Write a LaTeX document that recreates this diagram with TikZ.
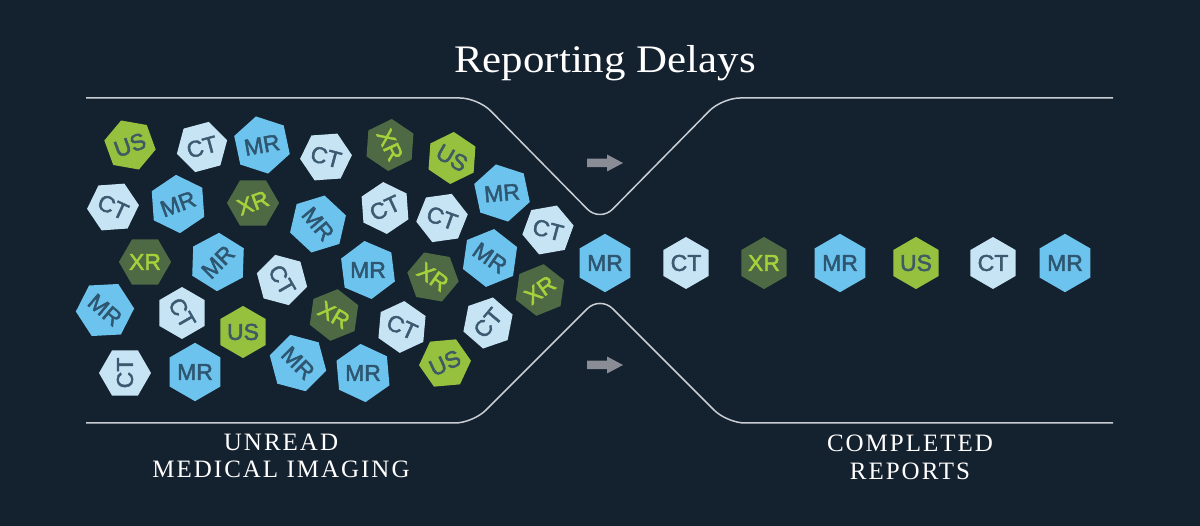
\documentclass[tikz,border=0pt]{standalone}
\usepackage{fontspec}
\usetikzlibrary{shapes.geometric}
\newfontfamily\hexfont{Liberation Sans}[FakeBold=2]
\newfontfamily\serifttl{Liberation Serif}
\newfontfamily\seriflab{Liberation Serif}[LetterSpace=8]
\definecolor{bg}{HTML}{14212E}
\definecolor{linec}{HTML}{C9CED4}
\definecolor{arrowc}{HTML}{8A8D96}
\definecolor{mrfill}{HTML}{6CC3EE}
\definecolor{mrtext}{HTML}{2E5670}
\definecolor{ctfill}{HTML}{C6E4F4}
\definecolor{cttext}{HTML}{3B5A70}
\definecolor{xrfill}{HTML}{4E6A45}
\definecolor{xrtext}{HTML}{A6D13B}
\definecolor{usfill}{HTML}{95C13F}
\definecolor{ustext}{HTML}{3E5A62}
\tikzset{
  hexbase/.style={regular polygon, regular polygon sides=6, minimum size=52pt, inner sep=0pt, font=\hexfont\fontsize{23}{23}\selectfont},
  mr/.style={hexbase, fill=mrfill, text=mrtext},
  ct/.style={hexbase, fill=ctfill, text=cttext},
  xr/.style={hexbase, fill=xrfill, text=xrtext},
  us/.style={hexbase, fill=usfill, text=ustext},
  wall/.style={draw=linec, line width=1.5pt, rounded corners=18pt},
  flowarrow/.style={fill=arrowc},
  labeltext/.style={text=white, font=\seriflab\fontsize{25}{25}\selectfont, anchor=base},
}
% name, x, y, hex vertex angle, text angle, type, label
\newcommand\hx[7]{%
  \pgfmathsetmacro\hxsbr{#4-(#5)}%
  \node[#6, rotate=#5, shape border rotate=\hxsbr] (#1) at (#2,#3) {#7};}
\begin{document}
\begin{tikzpicture}[x=1pt,y=-1pt]
\fill[bg] (0,0) rectangle (1200,526);
\useasboundingbox (0,0) rectangle (1200,526);

% title
\node[text=white, anchor=base, font=\serifttl\fontsize{39}{39}\selectfont] (title) at (605,73) {\scalebox{1.1}[1]{Reporting Delays}};

% funnel walls
\draw[wall] (86,98) -- (478,98) -- (600,222) -- (722,98) -- (1113,98);
\draw[wall] (86,423) -- (473,423) -- (600,296) -- (727,423) -- (1113,423);

% arrows
\fill[flowarrow] (587,158.75) -- (607,158.75) -- (607,154.5) -- (623,163) -- (607,171.5) -- (607,167.25) -- (587,167.25) -- cycle;
\fill[flowarrow] (587,360.75) -- (607,360.75) -- (607,356.5) -- (623,365) -- (607,373.5) -- (607,369.25) -- (587,369.25) -- cycle;

% unread cluster
\hx{h1}{130}{145}{50}{20}{us}{US}
\hx{h2}{202}{147}{15}{15}{ct}{CT}
\hx{h3}{262}{145}{42}{10}{mr}{MR}
\hx{h4}{326}{157}{4}{-15}{ct}{CT}
\hx{h5}{390}{145}{26}{-65}{xr}{XR}
\hx{h6}{452}{158}{26}{-30}{us}{US}
\hx{h7}{113}{207}{4}{-25}{ct}{CT}
\hx{h8}{178}{204}{34}{20}{mr}{MR}
\hx{h9}{253}{203}{0}{20}{xr}{XR}
\hx{h10}{318}{224}{17}{-50}{mr}{MR}
\hx{h11}{385}{208}{34}{25}{ct}{CT}
\hx{h12}{442}{218}{8}{-20}{ct}{CT}
\hx{h13}{502}{193}{42}{5}{mr}{MR}
\hx{h14}{548}{230}{10}{-15}{ct}{CT}
\hx{h15}{145}{262}{0}{0}{xr}{XR}
\hx{h16}{218}{262}{28}{45}{mr}{MR}
\hx{h17}{282}{280}{45}{-60}{ct}{CT}
\hx{h18}{368}{270}{37}{0}{mr}{MR}
\hx{h19}{433}{277}{50}{-35}{xr}{XR}
\hx{h20}{490}{258}{22}{-35}{mr}{MR}
\hx{h21}{540}{290}{22}{35}{xr}{XR}
\hx{h22}{105}{310}{3}{-40}{mr}{MR}
\hx{h23}{182}{313}{30}{-60}{ct}{CT}
\hx{h24}{243}{332}{30}{0}{us}{US}
\hx{h25}{334}{315}{22}{-30}{xr}{XR}
\hx{h26}{402}{327}{25}{-25}{ct}{CT}
\hx{h27}{488}{323}{19}{50}{ct}{CT}
\hx{h28}{125}{373}{0}{90}{ct}{CT}
\hx{h29}{195}{372}{30}{0}{mr}{MR}
\hx{h30}{298}{363}{45}{-45}{mr}{MR}
\hx{h31}{363}{373}{35}{0}{mr}{MR}
\hx{h32}{445}{363}{5}{25}{us}{US}

% completed stream
\hx{s1}{605}{263}{30}{0}{mr}{MR}
\hx{s2}{686}{263}{30}{0}{ct}{CT}
\hx{s3}{764}{263}{30}{0}{xr}{XR}
\hx{s4}{840}{263}{30}{0}{mr}{MR}
\hx{s5}{916}{263}{30}{0}{us}{US}
\hx{s6}{993}{263}{30}{0}{ct}{CT}
\hx{s7}{1065}{263}{30}{0}{mr}{MR}

% labels
\node[labeltext] (lab1a) at (281,451) {UNREAD};
\node[labeltext] (lab1b) at (281,478) {MEDICAL IMAGING};
\node[labeltext] (lab2a) at (910,452) {COMPLETED};
\node[labeltext] (lab2b) at (910,479) {REPORTS};
\end{tikzpicture}
\end{document}
